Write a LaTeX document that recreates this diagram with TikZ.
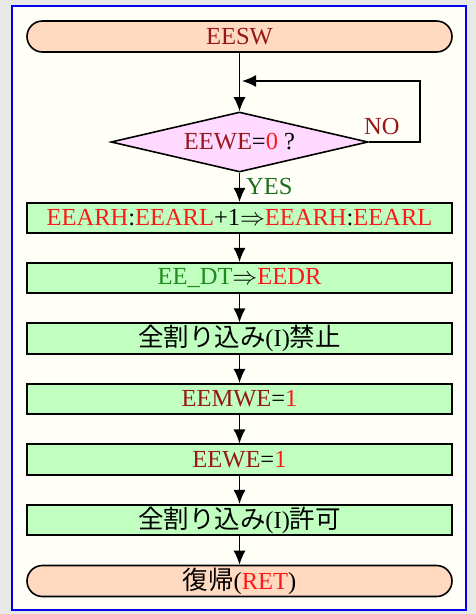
\documentclass[tikz,border=0pt]{standalone}
\usepackage{fontspec}
\setmainfont{Liberation Serif}
\newfontfamily\jp{Noto Sans CJK JP}[Scale=1.04]
\usetikzlibrary{shapes.geometric,arrows.meta}
\definecolor{bgout}{RGB}{232,232,232}
\definecolor{bgin}{RGB}{255,255,248}
\definecolor{frameblue}{RGB}{0,0,230}
\definecolor{termfill}{RGB}{255,217,192}
\definecolor{decfill}{RGB}{255,217,255}
\definecolor{boxfill}{RGB}{192,255,192}
\definecolor{darkred}{RGB}{150,24,24}
\definecolor{brightred}{RGB}{255,24,24}
\definecolor{okgreen}{RGB}{30,140,30}
\definecolor{yesgreen}{RGB}{30,110,30}
\newcommand{\dr}[1]{\textcolor{darkred}{#1}}
\newcommand{\rd}[1]{\textcolor{brightred}{#1}}
\newcommand{\gr}[1]{\textcolor{okgreen}{#1}}
\begin{document}
\begin{tikzpicture}[x=1pt,y=-1pt,
  font=\fontsize{24.5}{28}\selectfont,
  term/.style={draw=black, line width=1.6pt, fill=termfill, rounded corners=15.5pt,
    minimum width=425pt, minimum height=31pt, inner sep=0pt},
  procbox/.style={draw=black, line width=1.6pt, fill=boxfill,
    minimum width=425pt, minimum height=30.5pt, inner sep=0pt},
  dec/.style={diamond, aspect=4.28, draw=black, line width=1.6pt, fill=decfill,
    minimum width=257pt, minimum height=60pt, inner sep=0pt},
  arr/.style={line width=1.4pt, -{Latex[length=14pt,width=12pt]}},
  lbl/.style={inner sep=0pt, anchor=base west}]
\useasboundingbox (0,0) rectangle (476,614);
\fill[bgout] (0,0) rectangle (476,614);
\draw[frameblue, fill=bgin, line width=1.2pt] (12,6) rectangle (466,610);

\node[term] (start) at (239.5,36.5) {\dr{EESW}};
\node[dec] (dec) at (239.5,142) {\dr{EEWE}=\rd{0} ?};
\node[procbox] (b1) at (239.5,218) {\rd{EEARH}:\rd{EEARL}+1\ensuremath{\Rightarrow}\rd{EEARH}:\rd{EEARL}};
\node[procbox] (b2) at (239.5,278) {\gr{EE\_DT}\ensuremath{\Rightarrow}\rd{EEDR}};
\node[procbox] (b3) at (239.5,338.5) {{\jp 全割り込み}(I){\jp 禁止}};
\node[procbox] (b4) at (239.5,399) {\dr{EEMWE}=\rd{1}};
\node[procbox] (b5) at (239.5,459.5) {\dr{EEWE}=\rd{1}};
\node[procbox] (b6) at (239.5,520) {{\jp 全割り込み}(I){\jp 許可}};
\node[term] (end) at (239.5,581) {{\jp 復帰}(\rd{RET})};

\node[lbl, text=darkred] (nolbl) at (364,134) {NO};
\node[lbl, text=yesgreen] (yeslbl) at (246,194) {YES};

\coordinate (c1) at (420,142);
\coordinate (c2) at (420,81);
\coordinate (loopin) at (242,81);

\draw[arr] (start.south) -- (dec.north);
\draw[arr] (dec.east) -- (c1) -- (c2) -- (loopin);
\draw[arr] (dec.south) -- (b1.north);
\draw[arr] (b1.south) -- (b2.north);
\draw[arr] (b2.south) -- (b3.north);
\draw[arr] (b3.south) -- (b4.north);
\draw[arr] (b4.south) -- (b5.north);
\draw[arr] (b5.south) -- (b6.north);
\draw[arr] (b6.south) -- (end.north);
\end{tikzpicture}
\end{document}
